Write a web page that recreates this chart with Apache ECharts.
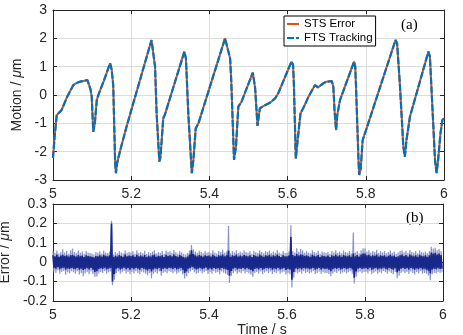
<!DOCTYPE html>
<html>
<head>
<meta charset="utf-8">
<script src="https://cdn.jsdelivr.net/npm/echarts@6/dist/echarts.min.js"></script>
<style>
  html, body { margin: 0; padding: 0; background: #fff; }
  #chart { width: 463px; height: 335px; }
</style>
</head>
<body>
<div id="chart"></div>
<script>
// Time axis tick labels (s)
const timeTicks = ['5', '5.2', '5.4', '5.6', '5.8', '6'];
const motionTicks = ['-3', '-2', '-1', '0', '1', '2', '3'];
const errorTicks = ['-0.2', '-0.1', '0', '0.1', '0.2', '0.3'];

// Motion trace: sample times (s) and displacement (µm).
// The STS error and FTS tracking traces coincide at this scale and share these values.
const motionTime = [
  5.000, 5.004, 5.0095, 5.022, 5.035, 5.052, 5.060, 5.069, 5.080, 5.088,
  5.091, 5.096, 5.099, 5.103, 5.107, 5.112, 5.116, 5.130, 5.146, 5.150,
  5.154, 5.159, 5.161, 5.164, 5.171, 5.188, 5.252, 5.256, 5.261, 5.265,
  5.272, 5.275, 5.282, 5.286, 5.336, 5.340, 5.346, 5.355, 5.359, 5.365,
  5.372, 5.440, 5.444, 5.453, 5.456, 5.463, 5.468, 5.474, 5.482, 5.511,
  5.517, 5.523, 5.529, 5.538, 5.555, 5.568, 5.576, 5.610, 5.614, 5.616,
  5.621, 5.624, 5.633, 5.642, 5.652, 5.670, 5.678, 5.691, 5.699, 5.713,
  5.717, 5.720, 5.724, 5.727, 5.734, 5.770, 5.773, 5.775, 5.781, 5.783,
  5.787, 5.792, 5.802, 5.876, 5.880, 5.887, 5.896, 5.900, 5.904, 5.913,
  5.960, 5.964, 5.969, 5.977, 5.981, 5.985, 5.991, 5.996, 6.000
];
const motionValue = [
  -2.22, -1.50, -0.71, -0.53, -0.10, 0.35, 0.42, 0.47, 0.50, 0.53,
  0.47, 0.20, -0.06, -1.30, -1.00, -0.18, 0.00, 0.50, 1.12, 0.90,
  0.35, -2.41, -2.76, -2.40, -2.00, -1.12, 1.94, 1.88, 1.00, -0.64,
  -2.35, -2.18, -0.82, -0.70, 1.53, 1.29, -0.65, -2.76, -2.30, -1.18,
  -1.00, 2.00, 1.94, 1.29, 0.47, -2.29, -1.82, -0.41, -0.24, 0.79,
  0.24, -1.09, -0.47, -0.39, -0.27, -0.12, 0.06, 1.18, 1.06, 0.41,
  -2.24, -1.82, -0.65, -0.41, -0.10, 0.35, 0.27, 0.41, 0.47, 0.49,
  0.29, -0.53, -1.24, -0.71, -0.18, 1.18, 1.00, 0.29, -2.18, -2.82,
  -2.60, -1.59, -1.18, 1.94, 1.83, 0.41, -1.82, -2.18, -1.59, -0.76,
  1.53, 1.35, -0.06, -2.29, -2.76, -2.29, -1.35, -0.88, -0.82
];

// Tracking error (nm), one upper/lower excursion per 5 ms, from 5.000 s.
// Outer = full excursion, core = dense band.
const errOuterHi = [
  55,48,60,45,52,66,50,58,44,62,   70,52,46,60,49,55,43,58,50,47,
  45,40,52,48,56,44,60,50,47,55,   213,40,52,46,58,50,45,62,48,54,
  50,57,44,61,48,53,46,59,42,51,   47,55,62,45,53,49,58,44,60,52,
  56,48,63,51,45,58,50,44,40,47,   60,88,66,55,48,59,52,46,57,50,
  54,47,61,50,45,58,52,64,48,55,   186,45,58,50,62,47,55,49,60,52,
  48,56,44,59,51,47,62,53,45,57,   52,60,46,55,49,63,50,44,58,47,
  48,55,191,58,50,72,54,68,62,49,  57,50,46,61,53,48,59,44,55,51,
  47,54,43,58,50,62,49,55,46,60,   53,48,57,45,153,50,58,46,62,72,
  70,55,61,49,58,52,64,47,56,50,   58,46,53,60,48,55,44,50,57,62,
  51,59,47,63,54,49,57,45,60,52,   48,55,46,57,79,70,75,62,68,58
];
const errOuterLo = [
  -48,-55,-42,-60,-50,-45,-64,-52,-58,-47,   -52,-60,-46,-63,-55,-72,-58,-50,-62,-48,
  -62,-76,-74,-58,-50,-56,-45,-60,-52,-48,   -119,-90,-55,-48,-60,-52,-45,-58,-50,-62,
  -50,-58,-46,-55,-62,-49,-53,-60,-67,-56,   -83,-60,-52,-58,-48,-70,-55,-50,-57,-46,
  -50,-57,-48,-60,-53,-46,-62,-84,-72,-55,   -48,-40,-52,-60,-55,-47,-58,-52,-45,-61,
  -52,-60,-47,-56,-50,-63,-48,-54,-59,-66,   -107,-70,-55,-48,-60,-52,-57,-46,-58,-50,
  -58,-65,-75,-56,-50,-59,-48,-62,-53,-47,   -55,-48,-61,-52,-57,-46,-60,-53,-49,-64,
  -56,-62,-131,-80,-52,-58,-50,-60,-47,-55,  -50,-58,-53,-47,-62,-55,-49,-60,-52,-57,
  -55,-61,-72,-58,-50,-56,-47,-60,-53,-49,   -58,-52,-47,-60,-110,-75,-53,-49,-57,-51,
  -50,-58,-46,-62,-54,-48,-60,-52,-57,-45,   -52,-59,-48,-56,-62,-50,-83,-70,-55,-49,
  -57,-50,-61,-48,-55,-63,-51,-58,-46,-60,   -55,-60,-68,-93,-62,-55,-58,-50,-56,-52
];
const errCoreHi = [
  36,30,40,28,34,38,32,36,29,35,   38,33,29,37,31,34,27,35,32,30,
  28,25,32,30,36,29,38,33,30,35,   200,26,33,29,37,32,28,39,30,34,
  32,36,28,38,30,34,29,37,26,33,   29,35,39,28,33,31,36,27,38,32,
  35,30,40,32,28,37,31,27,24,29,   40,62,42,36,30,37,33,29,36,32,
  34,29,38,31,28,36,33,40,30,35,   60,28,36,31,39,29,34,30,37,33,
  30,35,27,37,32,29,39,33,28,36,   33,38,29,35,31,40,32,27,36,30,
  30,34,130,37,32,42,34,40,38,31,  36,31,28,38,33,30,37,27,34,32,
  29,34,26,36,31,39,30,35,28,37,   33,30,36,28,45,31,37,29,39,44,
  45,35,38,31,36,33,40,29,35,32,   36,28,33,38,30,34,27,31,35,39,
  32,37,29,40,34,30,36,28,38,33,   30,35,28,36,50,45,48,40,44,37
];
const errCoreLo = [
  -30,-34,-26,-36,-31,-28,-37,-32,-35,-29,   -33,-36,-29,-38,-34,-40,-35,-31,-37,-30,
  -38,-50,-46,-36,-31,-35,-28,-37,-33,-30,   -100,-60,-34,-30,-37,-33,-28,-36,-31,-38,
  -31,-36,-29,-34,-39,-30,-33,-37,-42,-35,   -48,-37,-32,-36,-30,-44,-34,-31,-35,-29,
  -31,-35,-30,-37,-33,-29,-39,-55,-48,-34,   -30,-24,-32,-37,-34,-29,-36,-32,-28,-38,
  -32,-37,-29,-35,-31,-39,-30,-34,-36,-40,   -70,-45,-34,-30,-37,-32,-35,-29,-36,-31,
  -36,-40,-47,-35,-31,-37,-30,-38,-33,-29,   -34,-30,-38,-32,-36,-29,-37,-33,-31,-40,
  -35,-38,-90,-50,-32,-36,-31,-37,-29,-34,   -31,-36,-33,-29,-38,-34,-30,-37,-32,-35,
  -34,-38,-46,-36,-31,-35,-29,-37,-33,-30,   -36,-32,-29,-37,-80,-48,-33,-30,-35,-32,
  -31,-36,-28,-38,-34,-30,-37,-32,-35,-28,   -33,-37,-30,-35,-39,-31,-52,-44,-34,-30,
  -35,-31,-38,-30,-34,-39,-32,-36,-29,-37,   -34,-38,-44,-58,-38,-34,-36,-31,-35,-33
];
const errStart = 5.0;
const errStep = 0.005;

// Pair each upper excursion with the following lower one to draw a dense band.
function excursionPath(hi, lo) {
  const pts = [];
  for (let i = 0; i < hi.length; i++) {
    const t = errStart + i * errStep;
    pts.push([t, hi[i] / 1000]);
    pts.push([t + errStep / 2, lo[i] / 1000]);
  }
  return pts;
}
const motionPoints = motionTime.map((t, i) => [t, motionValue[i]]);

const ink = '#262626';
const labelFont = { fontFamily: 'Liberation Sans, Arial, sans-serif', fontSize: 14, color: ink };

function xAxisPair(grid) {
  return [
    {
      gridIndex: grid, type: 'value', min: 5, max: 6, interval: 0.2, position: 'bottom',
      axisLine: { show: true, onZero: false, lineStyle: { color: ink, width: 1 } },
      axisTick: { show: true, inside: true, length: 4, lineStyle: { color: ink } },
      axisLabel: Object.assign({ margin: 7, formatter: v => timeTicks[Math.round((v - 5) / 0.2)] }, labelFont),
      splitLine: { show: true, lineStyle: { color: '#dcdcdc', width: 1 } }
    },
    {
      gridIndex: grid, type: 'value', min: 5, max: 6, interval: 0.2, position: 'top',
      axisLine: { show: true, onZero: false, lineStyle: { color: ink, width: 1 } },
      axisTick: { show: true, inside: true, length: 4, lineStyle: { color: ink } },
      axisLabel: { show: false }, splitLine: { show: false }
    }
  ];
}
function yAxisPair(grid, min, max, interval, ticks, name) {
  return [
    {
      gridIndex: grid, type: 'value', min: min, max: max, interval: interval, position: 'left',
      name: name, nameLocation: 'middle', nameGap: 26,
      nameTextStyle: {
        fontFamily: 'Liberation Sans, Arial, sans-serif', fontSize: 14, color: ink,
        rich: { it: { fontFamily: 'Liberation Sans, Arial, sans-serif', fontSize: 14, fontStyle: 'italic', color: ink } }
      },
      axisLine: { show: true, onZero: false, lineStyle: { color: ink, width: 1 } },
      axisTick: { show: true, inside: true, length: 4, lineStyle: { color: ink } },
      axisLabel: Object.assign({ margin: 6, formatter: v => ticks[Math.round((v - min) / interval)] }, labelFont),
      splitLine: { show: true, lineStyle: { color: '#dcdcdc', width: 1 } }
    },
    {
      gridIndex: grid, type: 'value', min: min, max: max, interval: interval, position: 'right',
      axisLine: { show: true, onZero: false, lineStyle: { color: ink, width: 1 } },
      axisTick: { show: true, inside: true, length: 4, lineStyle: { color: ink } },
      axisLabel: { show: false }, splitLine: { show: false }
    }
  ];
}

const xAxes = xAxisPair(0).concat(xAxisPair(1));
xAxes[2].name = 'Time / s';
xAxes[2].nameLocation = 'middle';
xAxes[2].nameGap = 17;
xAxes[2].nameTextStyle = { fontFamily: 'Liberation Sans, Arial, sans-serif', fontSize: 14, color: ink, padding: [0, 0, 0, 28] };

const yAxes = yAxisPair(0, -3, 3, 1, motionTicks, 'Motion / {it|μ}m')
  .concat(yAxisPair(1, -0.2, 0.3, 0.1, errorTicks, 'Error / {it|μ}m'));

const chart = echarts.init(document.getElementById('chart'), null, { renderer: 'canvas' });
chart.setOption({
  animation: false,
  backgroundColor: '#fff',
  grid: [
    { left: 53, right: 19, top: 10, height: 170, outerBoundsMode: 'none', containLabel: false },
    { left: 53, right: 20, top: 204, height: 97, outerBoundsMode: 'none', containLabel: false }
  ],
  xAxis: xAxes,
  yAxis: yAxes,
  legend: {
    data: ['STS Error', 'FTS Tracking'],
    orient: 'vertical', left: 284, top: 16,
    itemWidth: 12, itemHeight: 2, itemGap: 0,
    padding: [1, 3, 1, 2],
    backgroundColor: '#fff', borderColor: '#000', borderWidth: 1, borderRadius: 0,
    textStyle: { fontFamily: 'Liberation Sans, Arial, sans-serif', fontSize: 11.5, color: '#000', lineHeight: 14 }
  },
  graphic: [
    { type: 'text', left: 401, top: 18, style: { text: '(a)', font: '15px "Liberation Serif", "Times New Roman", serif', fill: '#000' } },
    { type: 'text', left: 406, top: 211, style: { text: '(b)', font: '15px "Liberation Serif", "Times New Roman", serif', fill: '#000' } }
  ],
  series: [
    {
      name: 'STS Error', type: 'line', xAxisIndex: 0, yAxisIndex: 0,
      data: motionPoints, symbol: 'none', z: 2,
      lineStyle: { color: '#D95319', width: 2 }, itemStyle: { color: '#D95319' }
    },
    {
      name: 'FTS Tracking', type: 'line', xAxisIndex: 0, yAxisIndex: 0,
      data: motionPoints, symbol: 'none', z: 3,
      lineStyle: { color: '#0072BD', width: 2.2, type: [7, 2] }, itemStyle: { color: '#0072BD' }
    },
    {
      name: 'error-outer', type: 'line', xAxisIndex: 2, yAxisIndex: 2,
      data: excursionPath(errOuterHi, errOuterLo), symbol: 'none', silent: true, z: 2,
      lineStyle: { color: '#8e95cb', width: 1.2 }
    },
    {
      name: 'error-core', type: 'line', xAxisIndex: 2, yAxisIndex: 2,
      data: excursionPath(errCoreHi, errCoreLo), symbol: 'none', silent: true, z: 3,
      lineStyle: { color: '#17288a', width: 1.6 }
    }
  ]
});
</script>
</body>
</html>
